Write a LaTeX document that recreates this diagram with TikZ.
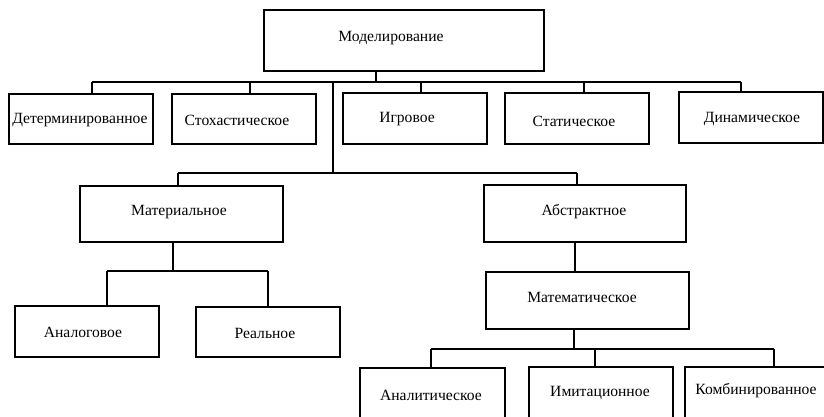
\documentclass[tikz,border=0pt]{standalone}
\usepackage{fontspec}
\setmainfont{Liberation Serif}
\begin{document}
\begin{tikzpicture}[x=1pt,y=-1pt,
  box/.style={draw=black,line width=1.1pt,rectangle,inner sep=0pt,
    minimum width=144pt,minimum height=50pt},
  lbl/.style={inner sep=0pt,font=\fontsize{15.6}{18}\selectfont,text=black},
  wire/.style={draw=black,line width=1.1pt}]
\useasboundingbox (0,0) rectangle (824,416);
\clip (0,0) rectangle (824,416);
\fill[white] (0,0) rectangle (824,416);

% boxes
\node[box,minimum width=280pt,minimum height=61pt] (root) at (404,40.5) {};
\node[box] (det) at (81,119) {};
\node[box] (sto) at (244,119) {};
\node[box,minimum height=51pt] (igr) at (415,118.5) {};
\node[box,minimum height=51pt] (sta) at (577,118.5) {};
\node[box,minimum height=51pt] (din) at (751,117.5) {};
\node[box,minimum width=203pt,minimum height=56pt] (mat) at (181.5,214) {};
\node[box,minimum width=202pt,minimum height=57pt] (abs) at (585,213.5) {};
\node[box,minimum height=51pt] (ana) at (87,331.5) {};
\node[box] (rea) at (268,332) {};
\node[box,minimum width=203pt,minimum height=57pt] (mth) at (587.5,300.5) {};
\node[box,minimum width=145pt,minimum height=64pt] (anl) at (432.5,400) {};
\node[box,minimum height=66pt] (imi) at (601,400) {};
\node[box,minimum height=66pt] (kom) at (757,400) {};

% labels
\node[lbl] at (391,38) {Моделирование};
\node[lbl] at (80,120) {Детерминированное};
\node[lbl] at (237,120) {Стохастическое};
\node[lbl] at (407,119) {Игровое};
\node[lbl] at (574,121) {Статическое};
\node[lbl] at (752,119) {Динамическое};
\node[lbl] at (179,212) {Материальное};
\node[lbl] at (584,212) {Абстрактное};
\node[lbl] at (83,332) {Аналоговое};
\node[lbl] at (265,333) {Реальное};
\node[lbl] at (582,297) {Математическое};
\node[lbl] at (431,395) {Аналитическое};
\node[lbl] at (600,393) {Имитационное};
\node[lbl] at (756,391) {Комбинированное};

% first level bus
\coordinate (s1) at (376,82);
\coordinate (d1) at (92,82);
\coordinate (d2) at (250,82);
\coordinate (d3) at (421,82);
\coordinate (d4) at (584,82);
\coordinate (d5) at (741,82);
\coordinate (v1) at (333,82);
\draw[wire] (s1 |- root.south) -- (s1);
\draw[wire] (d1) -- (d5);
\draw[wire] (d1) -- (d1 |- det.north);
\draw[wire] (d2) -- (d2 |- sto.north);
\draw[wire] (d3) -- (d3 |- igr.north);
\draw[wire] (d4) -- (d4 |- sta.north);
\draw[wire] (d5) -- (d5 |- din.north);

% second level bus
\coordinate (v2) at (333,173);
\coordinate (m1) at (178,173);
\coordinate (m2) at (577,173);
\draw[wire] (v1) -- (v2);
\draw[wire] (m1) -- (m2);
\draw[wire] (m1) -- (m1 |- mat.north);
\draw[wire] (m2) -- (m2 |- abs.north);

% material branch
\coordinate (ms) at (173,271);
\coordinate (a1) at (107,271);
\coordinate (a2) at (268,271);
\draw[wire] (ms |- mat.south) -- (ms);
\draw[wire] (a1) -- (a2);
\draw[wire] (a1) -- (a1 |- ana.north);
\draw[wire] (a2) -- (a2 |- rea.north);

% abstract branch
\coordinate (as) at (575,250);
\draw[wire] (as |- abs.south) -- (as |- mth.north);

\coordinate (ts) at (574,349);
\coordinate (t1) at (431,349);
\coordinate (t2) at (595,349);
\coordinate (t3) at (774,349);
\draw[wire] (ts |- mth.south) -- (ts);
\draw[wire] (t1) -- (t3);
\draw[wire] (t1) -- (t1 |- anl.north);
\draw[wire] (t2) -- (t2 |- imi.north);
\draw[wire] (t3) -- (t3 |- kom.north);
\end{tikzpicture}
\end{document}
